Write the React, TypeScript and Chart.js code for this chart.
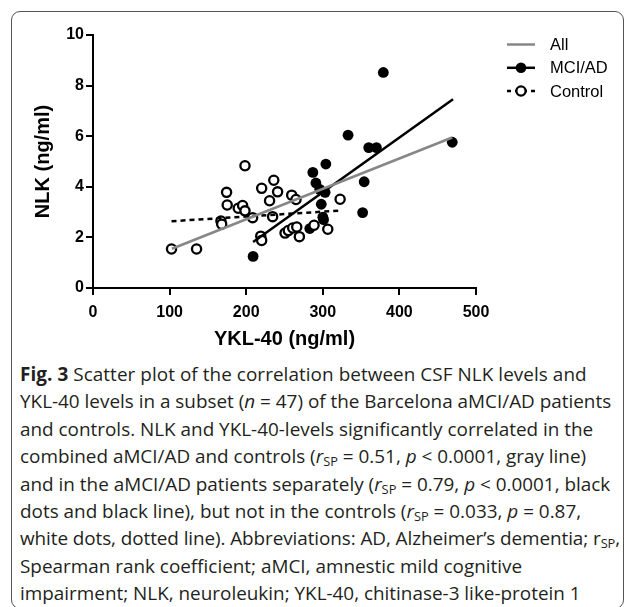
import React, { useEffect, useRef } from "react";
import { Chart, registerables } from "chart.js";

Chart.register(...registerables);

// ---- Data ----
const mciX = [209, 283, 287, 304, 291, 296, 303, 298, 300, 301, 379, 333, 360, 370, 469, 354, 352];
const mciY = [1.25, 2.35, 4.57, 4.9, 4.15, 3.9, 3.78, 3.31, 2.8, 2.7, 8.52, 6.04, 5.55, 5.55, 5.76, 4.2, 2.98];

const ctrlX = [102.5, 135.2, 198.4, 174.4, 175.2, 167, 168, 189.6, 195.3, 198.4, 208.4, 220.2, 236, 241, 230.5, 234.5, 259.4, 265, 219, 220.2, 250.7, 255, 260.7, 266, 269.4, 288.6, 306.5, 322.6];
const ctrlY = [1.54, 1.54, 4.83, 3.78, 3.28, 2.65, 2.52, 3.15, 3.26, 3.05, 2.78, 3.94, 4.26, 3.8, 3.45, 2.82, 3.67, 3.5, 2.05, 1.88, 2.17, 2.27, 2.37, 2.41, 2.03, 2.48, 2.32, 3.51];

// regression line end points
const allLineX = [103, 469];
const allLineY = [1.55, 5.95];
const mciLineX = [209, 470];
const mciLineY = [1.82, 7.46];
const ctrlLineX = [102.5, 322.6];
const ctrlLineY = [2.64, 3.06];

const legendLabels = ["All", "MCI/AD", "Control"];
const xTicks = [0, 100, 200, 300, 400, 500];
const yTicks = [0, 2, 4, 6, 8, 10];

const xTitle = "YKL-40 (ng/ml)";
const yTitle = "NLK (ng/ml)";

const GRAY = "#878787";
const AXIS_FONT = "'Liberation Sans', Arial, sans-serif";

const zip = (xs: number[], ys: number[]) => xs.map((x, i) => ({ x, y: ys[i] }));

const legendPlugin = {
  id: "customLegend",
  afterDraw(chart: any) {
    const ctx = chart.ctx;
    const x0 = 507;
    const x1 = 535;
    const xt = 550;
    const ys = [44.5, 67.8, 91];
    const styles = [
      { color: GRAY, dash: [] as number[], marker: "none" },
      { color: "#000", dash: [] as number[], marker: "filled" },
      { color: "#000", dash: [4, 4], marker: "open" },
    ];
    ctx.save();
    legendLabels.forEach((label, i) => {
      const y = ys[i];
      const s = styles[i];
      ctx.strokeStyle = s.color;
      ctx.lineWidth = 2.5;
      ctx.setLineDash(s.dash);
      ctx.beginPath();
      ctx.moveTo(x0, y);
      ctx.lineTo(x1, y);
      ctx.stroke();
      ctx.setLineDash([]);
      const cx = (x0 + x1) / 2;
      if (s.marker === "filled") {
        ctx.fillStyle = "#000";
        ctx.beginPath();
        ctx.arc(cx, y, 5.3, 0, Math.PI * 2);
        ctx.fill();
      } else if (s.marker === "open") {
        ctx.fillStyle = "#fff";
        ctx.lineWidth = 2.3;
        ctx.beginPath();
        ctx.arc(cx, y, 4.6, 0, Math.PI * 2);
        ctx.fill();
        ctx.stroke();
      }
      ctx.fillStyle = "#000";
      ctx.font = `16.5px ${AXIS_FONT}`;
      ctx.textAlign = "left";
      ctx.textBaseline = "middle";
      ctx.fillText(label, xt, y + 1);
    });
    ctx.restore();
  },
};

function ScatterChart() {
  const ref = useRef<HTMLCanvasElement | null>(null);
  useEffect(() => {
    if (!ref.current) return;
    const chart = new Chart(ref.current, {
      type: "scatter",
      data: {
        datasets: [
          {
            label: legendLabels[0],
            data: zip(allLineX, allLineY),
            showLine: true,
            borderColor: GRAY,
            borderWidth: 2.5,
            pointRadius: 0,
            order: 0,
          } as any,
          {
            label: legendLabels[1],
            data: zip(mciLineX, mciLineY),
            showLine: true,
            borderColor: "#000",
            borderWidth: 2.5,
            pointRadius: 0,
            order: 0,
          } as any,
          {
            label: legendLabels[2],
            data: zip(ctrlLineX, ctrlLineY),
            showLine: true,
            borderColor: "#000",
            borderDash: [5, 4],
            borderWidth: 2.5,
            pointRadius: 0,
            order: 0,
          } as any,
          {
            label: "MCI/AD points",
            data: zip(mciX, mciY),
            backgroundColor: "#000",
            borderColor: "#000",
            borderWidth: 0,
            pointRadius: 5.4,
            order: 2,
          },
          {
            label: "Control points",
            data: zip(ctrlX, ctrlY),
            backgroundColor: "#fff",
            borderColor: "#000",
            borderWidth: 2.3,
            pointRadius: 4.6,
            order: 1,
          },
        ],
      },
      options: {
        responsive: false,
        animation: false,
        devicePixelRatio: 1,
        layout: { padding: { top: 35, right: 151, left: 0, bottom: 0 } },
        plugins: { legend: { display: false }, tooltip: { enabled: false } },
        scales: {
          x: {
            type: "linear",
            min: 0,
            max: 500,
            afterBuildTicks: (scale: any) => {
              scale.ticks = xTicks.map((v) => ({ value: v }));
            },
            afterFit: (scale: any) => {
              scale.height = 72;
            },
            ticks: {
              color: "#000",
              font: { family: AXIS_FONT, size: 16, weight: "bold" },
              padding: 8,
              maxRotation: 0,
            },
            grid: {
              drawOnChartArea: false,
              drawTicks: true,
              tickLength: 7,
              color: "#000",
              lineWidth: 2,
            },
            border: { display: true, color: "#000", width: 2 },
            title: {
              display: true,
              text: xTitle,
              color: "#000",
              font: { family: AXIS_FONT, size: 20, weight: "bold" },
              padding: { top: 0, bottom: 9 },
            },
          },
          y: {
            type: "linear",
            min: 0,
            max: 10,
            afterBuildTicks: (scale: any) => {
              scale.ticks = yTicks.map((v) => ({ value: v }));
            },
            afterFit: (scale: any) => {
              scale.width = 93;
            },
            ticks: {
              color: "#000",
              font: { family: AXIS_FONT, size: 16, weight: "bold" },
              padding: 2,
            },
            grid: {
              drawOnChartArea: false,
              drawTicks: true,
              tickLength: 7,
              color: "#000",
              lineWidth: 2,
            },
            border: { display: true, color: "#000", width: 2 },
            title: {
              display: true,
              text: yTitle,
              color: "#000",
              font: { family: AXIS_FONT, size: 20, weight: "bold" },
              padding: { top: 31, bottom: 0 },
            },
          },
        },
      } as any,
      plugins: [legendPlugin],
    });
    return () => chart.destroy();
  }, []);
  return (
    <canvas
      ref={ref}
      width={627}
      height={360}
      style={{ position: "absolute", left: 0, top: 0, width: 627, height: 360 }}
    />
  );
}

const sub: React.CSSProperties = { fontSize: "0.68em", verticalAlign: "-0.22em", lineHeight: 0 };

export default function App() {
  return (
    <div style={{ position: "absolute", left: 0, top: 0, width: 627, height: 607, overflow: "hidden", background: "#fff" }}>
      <div
        style={{
          position: "absolute",
          left: 11,
          top: 11,
          width: 613,
          height: 598,
          border: "1.5px solid #555",
          borderRadius: 9,
          boxSizing: "border-box",
        }}
      />
      <ScatterChart />
      <div
        style={{
          position: "absolute",
          left: 20,
          top: 361,
          fontFamily: "'Open Sans', sans-serif",
          fontSize: 18.9,
          lineHeight: "27.4px",
          color: "#231f20",
          whiteSpace: "nowrap",
        }}
      >
        <span style={{ letterSpacing: "0.06px" }}>
          <b>Fig. 3</b> Scatter plot of the correlation between CSF NLK levels and
        </span>
        <br />
        YKL-40 levels in a subset (<i>n</i> = 47) of the Barcelona aMCI/AD patients
        <br />
        and controls. NLK and YKL-40-levels significantly correlated in the
        <br />
        combined aMCI/AD and controls (<i>r</i>
        <span style={sub}>SP</span> = 0.51, <i>p</i> &lt; 0.0001, gray line)
        <br />
        and in the aMCI/AD patients separately (<i>r</i>
        <span style={sub}>SP</span> = 0.79, <i>p</i> &lt; 0.0001, black
        <br />
        dots and black line), but not in the controls (<i>r</i>
        <span style={sub}>SP</span> = 0.033, <i>p</i> = 0.87,
        <br />
        <span style={{ letterSpacing: "-0.08px" }}>
          white dots, dotted line). Abbreviations: AD, Alzheimer’s dementia; r<span style={sub}>SP</span>,
        </span>
        <br />
        Spearman rank coefficient; aMCI, amnestic mild cognitive
        <br />
        impairment; NLK, neuroleukin; YKL-40, chitinase-3 like-protein 1
      </div>
    </div>
  );
}
